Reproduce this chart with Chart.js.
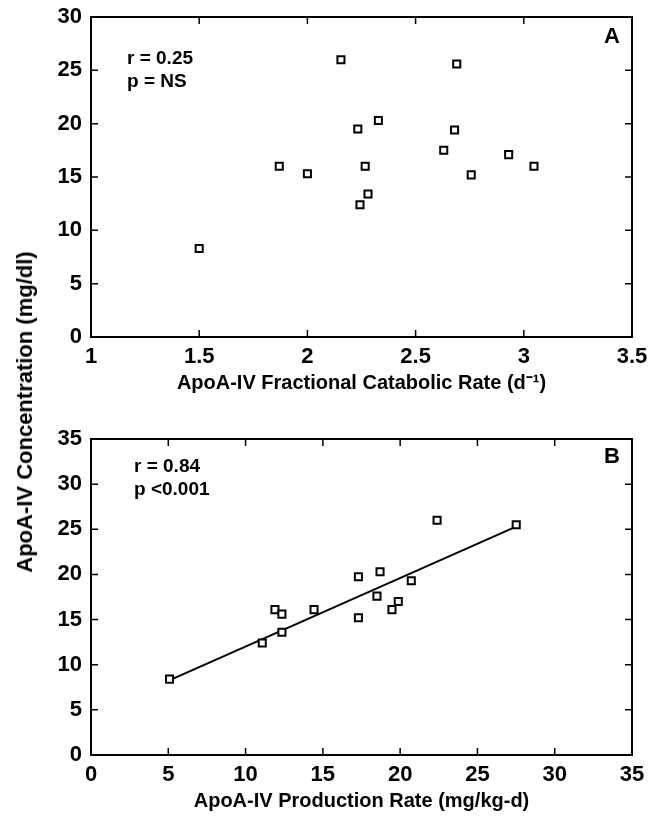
<!DOCTYPE html>
<html>
<head>
<meta charset="utf-8">
<script src="https://cdn.jsdelivr.net/npm/chart.js@4.4.0/dist/chart.umd.min.js"></script>
<style>
  body { margin: 0; background: #fff; }
  #wrap { position: relative; width: 648px; height: 827px; overflow: hidden; }
  canvas { position: absolute; left: 0; }
  #ytitle {
    position: absolute; left: 25px; top: 412px;
    transform: translate(-50%, -50%) rotate(-90deg);
    white-space: nowrap;
    font: bold 22px "Liberation Sans", Arial, sans-serif;
    color: #000;
  }
</style>
</head>
<body>
<div id="wrap">
  <canvas id="chart_a" width="648" height="412" style="top:0px"></canvas>
  <canvas id="chart_b" width="648" height="408" style="top:422px"></canvas>
  <div id="ytitle">ApoA-IV Concentration (mg/dl)</div>
</div>
<script>
// Painel A - taxa catabólica fracional x concentração
const fcrA = [1.50, 1.87, 2.00, 2.155, 2.233, 2.328, 2.267, 2.28, 2.243, 2.63, 2.68, 2.69, 2.757, 2.93, 3.047]
const concA = [8.3, 16.0, 15.3, 26.0, 19.5, 20.3, 16.0, 13.4, 12.4, 17.5, 19.4, 25.6, 15.2, 17.1, 16.0]

// Painel B - taxa de produção x concentração
const prodB = [5.08, 11.08, 11.9, 12.35, 12.35, 14.43, 17.3, 17.3, 18.7, 18.5, 19.47, 19.88, 20.72, 22.39, 27.51]
const concB = [8.4, 12.4, 16.1, 15.6, 13.6, 16.1, 19.75, 15.2, 20.3, 17.6, 16.1, 17.0, 19.3, 26.0, 25.5]

// Reta de regressão (painel B)
const fitX = [5.1, 27.5]
const fitY = [8.3, 25.3]

// Eixos: [min, max, passo]
const xTicksA = [1, 3.5, 0.5]
const yTicksA = [0, 30, 5]
const xTicksB = [0, 35, 5]
const yTicksB = [0, 35, 5]

const FONT = '"Liberation Sans", Arial, sans-serif'

function toPoints(xs, ys) {
    return xs.map((x, i) => ({ x: x, y: ys[i] }))
}

// "1" e não "1.0"
function tickLabel(v) {
    return String(Math.round(v * 10) / 10)
}

// moldura + ticks para dentro nos quatro lados
const framePlugin = {
    id: 'frame',
    afterDraw(chart) {
        const ctx = chart.ctx
        const a = chart.chartArea
        const len = 7
        ctx.save()
        ctx.strokeStyle = '#000'
        ctx.lineWidth = 2
        ctx.strokeRect(a.left, a.top, a.right - a.left, a.bottom - a.top)
        ctx.lineWidth = 1.5
        ctx.beginPath()
        chart.scales.x.ticks.forEach(t => {
            const px = chart.scales.x.getPixelForValue(t.value)
            if (px <= a.left + 1 || px >= a.right - 1) return
            ctx.moveTo(px, a.bottom); ctx.lineTo(px, a.bottom - len)
            ctx.moveTo(px, a.top); ctx.lineTo(px, a.top + len)
        })
        chart.scales.y.ticks.forEach(t => {
            const py = chart.scales.y.getPixelForValue(t.value)
            if (py <= a.top + 1 || py >= a.bottom - 1) return
            ctx.moveTo(a.left, py); ctx.lineTo(a.left + len, py)
            ctx.moveTo(a.right, py); ctx.lineTo(a.right - len, py)
        })
        ctx.stroke()
        ctx.restore()
    }
}

// textos r / p e letra do painel
const notesPlugin = {
    id: 'notes',
    afterDraw(chart, args, opts) {
        const ctx = chart.ctx
        const a = chart.chartArea
        ctx.save()
        ctx.fillStyle = '#000'
        ctx.textBaseline = 'alphabetic'
        ctx.textAlign = 'left'
        ctx.font = 'bold 19px ' + FONT
        opts.lines.forEach((txt, i) => {
            ctx.fillText(txt, a.left + opts.dx, a.top + opts.dy + i * 23)
        })
        ctx.font = 'bold 22px ' + FONT
        ctx.textAlign = 'right'
        ctx.fillText(opts.letter, a.right - 12, a.top + opts.ly)
        ctx.restore()
    }
}

function makePanel(id, datasets, xt, yt, xTitle, notes) {
    const el = document.getElementById(id).getContext('2d')
    return new Chart(el, {
        type: 'scatter',
        data: { datasets: datasets },
        plugins: [framePlugin, notesPlugin],
        options: {
            responsive: false,
            animation: false,
            layout: { padding: { top: 17, right: 16, left: 0, bottom: 0 } },
            plugins: {
                legend: { display: false },
                tooltip: { enabled: false },
                notes: notes
            },
            scales: {
                x: {
                    type: 'linear',
                    min: xt[0], max: xt[1],
                    border: { display: false },
                    grid: { display: false, drawTicks: false },
                    ticks: {
                        stepSize: xt[2], padding: 7, color: '#000',
                        font: { family: FONT, size: 22, weight: 'bold' },
                        maxRotation: 0,
                        callback: tickLabel
                    },
                    title: {
                        display: true, text: xTitle, color: '#000',
                        font: { family: FONT, size: 20, weight: 'bold' },
                        padding: { top: 0, bottom: 17 }
                    },
                    afterFit: s => {
                        s.height = 75
                        s.paddingLeft = 0
                        s.paddingRight = 0
                    }
                },
                y: {
                    type: 'linear',
                    min: yt[0], max: yt[1],
                    border: { display: false },
                    grid: { display: false, drawTicks: false },
                    ticks: {
                        stepSize: yt[2], padding: 9, color: '#000',
                        font: { family: FONT, size: 22, weight: 'bold' },
                        callback: tickLabel
                    },
                    afterFit: s => {
                        s.width = 91
                        s.paddingTop = 0
                        s.paddingBottom = 0
                    }
                }
            }
        }
    })
}

const squareStyle = {
    pointStyle: 'rect',
    pointRadius: 5,
    pointBorderWidth: 2,
    borderColor: '#000',
    backgroundColor: '#fff',
    pointHoverRadius: 5
}

makePanel('chart_a', [
    Object.assign({ label: 'A', data: toPoints(fcrA, concA) }, squareStyle)
], xTicksA, yTicksA, 'ApoA-IV Fractional Catabolic Rate (d\u207B\u00B9)',
    { lines: ['r = 0.25', 'p = NS'], dx: 36, dy: 47, letter: 'A', ly: 26 })

makePanel('chart_b', [
    Object.assign({ label: 'B', data: toPoints(prodB, concB), order: 1 }, squareStyle),
    {
        label: 'fit', type: 'line', data: toPoints(fitX, fitY), order: 2,
        borderColor: '#000', borderWidth: 2, pointRadius: 0, fill: false, showLine: true
    }
], xTicksB, yTicksB, 'ApoA-IV Production Rate (mg/kg-d)',
    { lines: ['r = 0.84', 'p <0.001'], dx: 43, dy: 33, letter: 'B', ly: 24 })
</script>
</body>
</html>
